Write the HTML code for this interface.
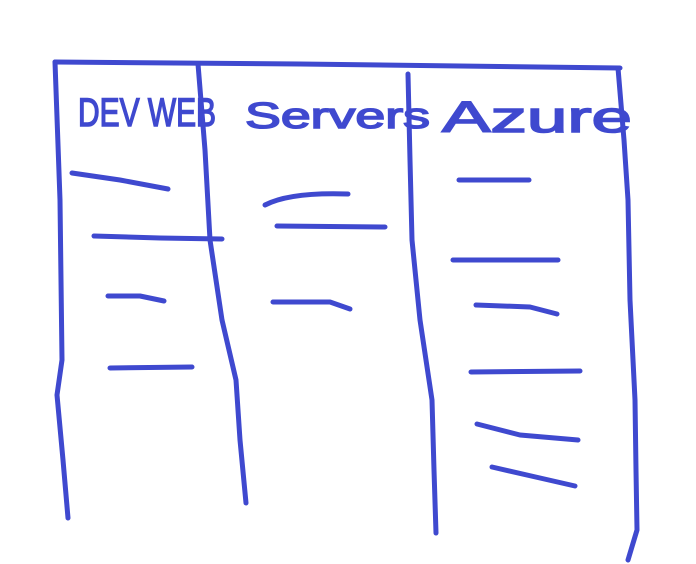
<!DOCTYPE html>
<html><head><meta charset="utf-8"><style>
html,body{margin:0;padding:0;background:#fff;width:696px;height:564px;overflow:hidden}
svg{display:block}
</style></head><body>
<svg width="696" height="564" viewBox="0 0 696 564" xmlns="http://www.w3.org/2000/svg">
<g fill="none" stroke="#3f49cf" stroke-width="5" stroke-linecap="round" stroke-linejoin="round">
<path d="M55 62 L300 64 L620 68"/>
<path d="M55 62 L60 200 L62 360 L57 395 L63 460 L68 518"/>
<path d="M198 64 L205 150 L210 240 L222 320 L236 380 L240 440 L246 503"/>
<path d="M408 74 L410 160 L412 240 L420 320 L432 400 L434 470 L436 533"/>
<path d="M618 68 L624 140 L628 200 L630 300 L635 400 L636 470 L637 530 L628 560"/>
<path d="M72 173 L120 180 L168 189"/>
<path d="M94 236 L160 238 L222 239"/>
<path d="M108 296 L140 296 L164 301"/>
<path d="M110 368 L192 367"/>
<path d="M265 205 Q290 192 348 194"/>
<path d="M277 226 L385 227"/>
<path d="M273 302 L330 302 L350 309"/>
<path d="M459 180 L529 180"/>
<path d="M453 260 L558 260"/>
<path d="M476 305 L530 307 L557 314"/>
<path d="M471 372 L580 371"/>
<path d="M477 424 L520 435 L578 440"/>
<path d="M492 467 L540 478 L575 486"/>
</g>
<g fill="#3f49cf" stroke="#3f49cf" stroke-width="1.5" font-family="Liberation Sans, sans-serif">
<text x="78" y="126" font-size="40" textLength="138" lengthAdjust="spacingAndGlyphs">DEV WEB</text>
<text x="245" y="128" font-size="36" textLength="185" lengthAdjust="spacingAndGlyphs">Servers</text>
<text x="442" y="132" font-size="44" textLength="190" lengthAdjust="spacingAndGlyphs">Azure</text>
</g>
</svg>
</body></html>
